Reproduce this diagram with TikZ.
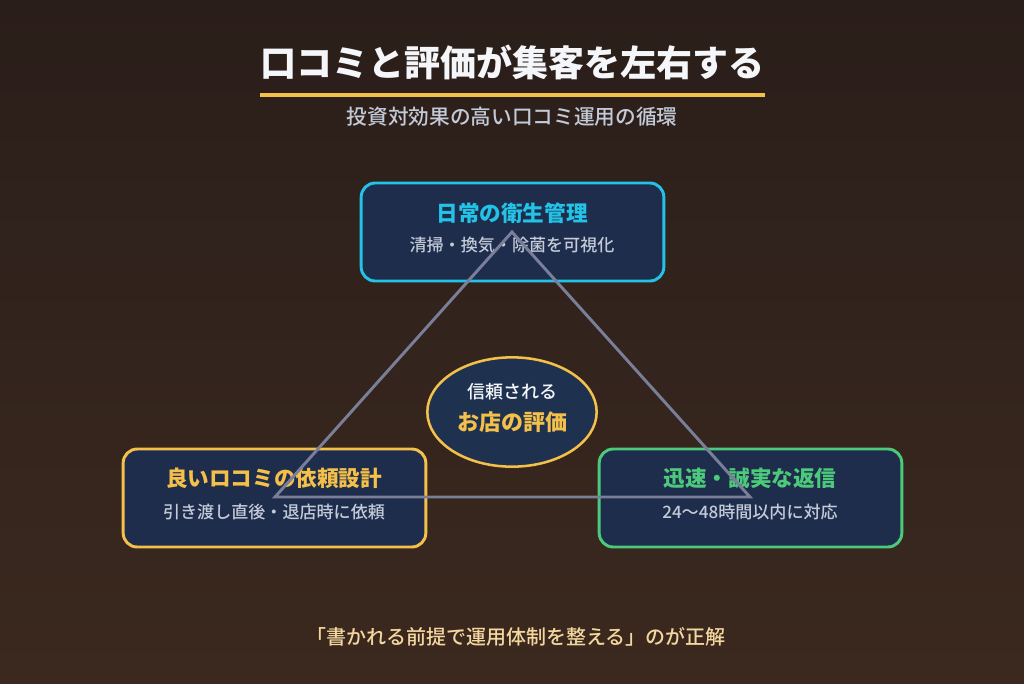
\documentclass[tikz,border=0pt]{standalone}
\usepackage{fontspec}
\setmainfont{Noto Sans CJK JP}
\newfontfamily\medfont{Noto Sans CJK JP Medium}
\usetikzlibrary{shapes.geometric}
\definecolor{bgtop}{HTML}{2A1E1A}
\definecolor{bgbot}{HTML}{3B291F}
\definecolor{boxfill}{HTML}{1F2D4D}
\definecolor{ellfill}{HTML}{1E3250}
\definecolor{cyanc}{HTML}{22C3E6}
\definecolor{goldc}{HTML}{F5C04A}
\definecolor{greenc}{HTML}{4CC97A}
\definecolor{subgray}{HTML}{C3CAD8}
\definecolor{tricol}{HTML}{7A7F99}
\definecolor{creamc}{HTML}{F3D79E}
\definecolor{titlew}{HTML}{F4F6FA}
\tikzset{
  px/.style={x=0.75pt,y=-0.75pt},
  card/.style={draw, line width=2.2pt, fill=boxfill, rounded corners=10.5pt,
    minimum width=227pt, minimum height=73.5pt, inner sep=0pt},
  headtxt/.style={font=\fontsize{16.2pt}{18pt}\selectfont\bfseries},
  subtxt/.style={font=\fontsize{12.8pt}{15pt}\medfont, text=subgray},
}
\begin{document}
\begin{tikzpicture}[px]
\shade[top color=bgtop, bottom color=bgbot] (0,0) rectangle (1024,683);
\useasboundingbox (0,0) rectangle (1024,683);
% title
\node[font=\fontsize{27pt}{30pt}\selectfont\bfseries, text=titlew] (title) at (512,62) {口コミと評価が集客を左右する};
\coordinate (ulA) at (260,95);
\coordinate (ulB) at (765,95);
\draw[goldc, line width=3pt] (ulA) -- (ulB);
\node[font=\fontsize{15.5pt}{18pt}\medfont, text=subgray] (subtitle) at (512,117) {投資対効果の高い口コミ運用の循環};
% cards
\node[card, draw=cyanc] (top) at (512.5,232) {};
\node[card, draw=goldc] (left) at (274.5,498) {};
\node[card, draw=greenc] (right) at (750.5,498) {};
\node[headtxt, text=cyanc] (topH) at (512,213) {日常の衛生管理};
\node[subtxt] (topS) at (512,245) {清掃・換気・除菌を可視化};
\node[headtxt, text=goldc] (leftH) at (274,478) {良いロコミの依頼設計};
\node[subtxt] (leftS) at (274,512) {引き渡し直後・退店時に依頼};
\node[headtxt, text=greenc] (rightH) at (750,478) {迅速・誠実な返信};
\node[subtxt] (rightS) at (750,512) {24〜48時間以内に対応};
% triangle
\coordinate (vt) at (512,232);
\coordinate (vl) at (275,497);
\coordinate (vr) at (750,497);
\draw[tricol, line width=2.2pt, line join=miter] (vt) -- (vl) -- (vr) -- cycle;
% center ellipse
\node[ellipse, draw=goldc, line width=1.9pt, fill=ellfill, minimum width=127pt, minimum height=82pt, inner sep=0pt] (center) at (512,412) {};
\node[font=\fontsize{13.5pt}{15pt}\medfont, text=titlew] (cA) at (512,392) {信頼される};
\node[font=\fontsize{16.5pt}{18pt}\selectfont\bfseries, text=goldc] (cB) at (512,422) {お店の評価};
% footer
\node[font=\fontsize{15pt}{17pt}\medfont, text=creamc] (foot) at (516,637) {「書かれる前提で運用体制を整える」のが正解};
\end{tikzpicture}
\end{document}
